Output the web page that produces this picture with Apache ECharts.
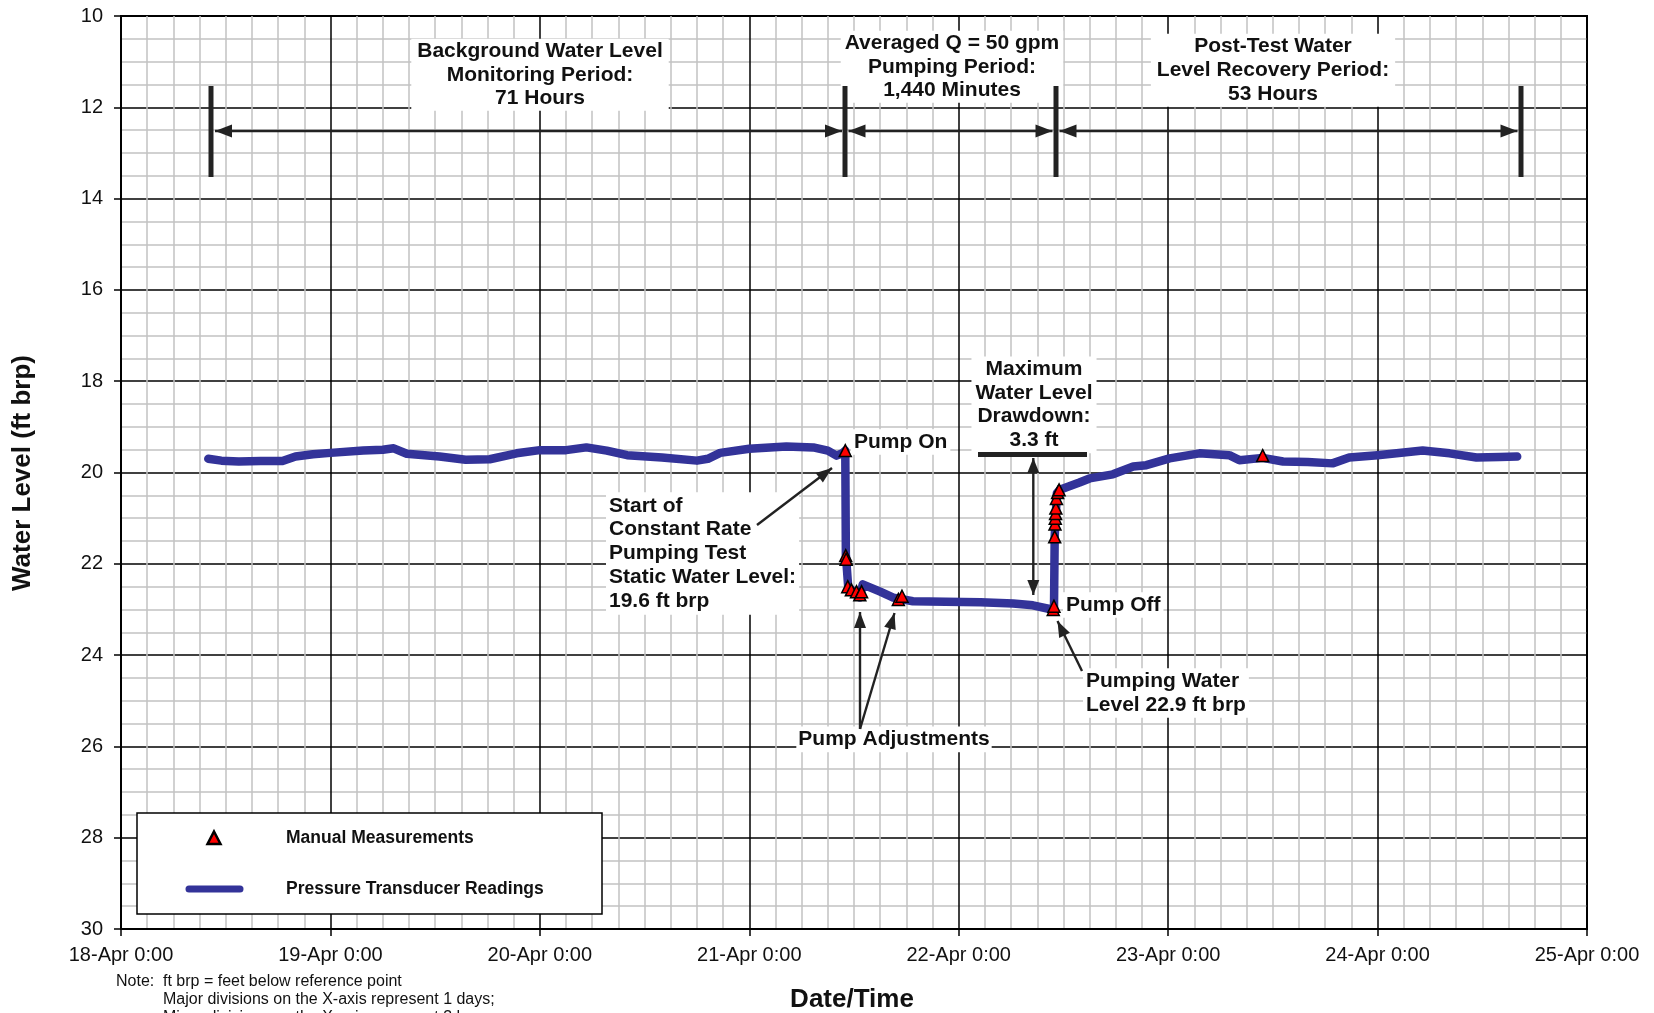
<!DOCTYPE html>
<html>
<head>
<meta charset="utf-8">
<script src="https://cdn.jsdelivr.net/npm/echarts@6/dist/echarts.min.js"></script>
<style>
html,body{margin:0;padding:0;background:#fff;}
#chart{width:1654px;height:1013px;}
</style>
</head>
<body>
<div id="chart"></div>
<script>
// ---------------- DATA ----------------
const dayLabels = ['18-Apr 0:00','19-Apr 0:00','20-Apr 0:00','21-Apr 0:00','22-Apr 0:00','23-Apr 0:00','24-Apr 0:00','25-Apr 0:00'];
const yTicks = [10,12,14,16,18,20,22,24,26,28,30];

// Pressure transducer readings (date-time, water level ft brp)
const transducerTime = [
  '2010-04-18 10:00','2010-04-18 11:30','2010-04-18 13:30','2010-04-18 16:00','2010-04-18 18:30','2010-04-18 20:00','2010-04-18 22:00',
  '2010-04-19 00:00','2010-04-19 03:45','2010-04-19 06:00','2010-04-19 07:15','2010-04-19 08:45','2010-04-19 12:30','2010-04-19 15:30','2010-04-19 18:15','2010-04-19 21:20',
  '2010-04-20 00:00','2010-04-20 03:00','2010-04-20 05:20','2010-04-20 07:40','2010-04-20 10:00','2010-04-20 14:00','2010-04-20 18:00','2010-04-20 19:15','2010-04-20 20:40',
  '2010-04-21 00:00','2010-04-21 04:15','2010-04-21 07:20','2010-04-21 09:00','2010-04-21 10:00','2010-04-21 10:40','2010-04-21 11:00','2010-04-21 11:04','2010-04-21 11:20',
  '2010-04-21 12:00','2010-04-21 12:40','2010-04-21 13:00','2010-04-21 15:00','2010-04-21 16:30','2010-04-21 18:45','2010-04-21 22:30',
  '2010-04-22 02:30','2010-04-22 06:15','2010-04-22 08:30','2010-04-22 10:25','2010-04-22 10:55','2010-04-22 11:00','2010-04-22 11:15','2010-04-22 11:35',
  '2010-04-22 13:50','2010-04-22 15:00','2010-04-22 17:40','2010-04-22 20:00','2010-04-22 21:30',
  '2010-04-23 00:10','2010-04-23 03:35','2010-04-23 07:00','2010-04-23 08:10','2010-04-23 10:50','2010-04-23 13:10','2010-04-23 16:00','2010-04-23 18:50','2010-04-23 20:45',
  '2010-04-24 00:00','2010-04-24 05:10','2010-04-24 08:15','2010-04-24 11:20','2010-04-24 14:00','2010-04-24 16:00'
];
const transducerLevel = [
  19.70,19.74,19.76,19.75,19.75,19.65,19.60,
  19.57,19.52,19.50,19.47,19.59,19.65,19.72,19.71,19.58,
  19.51,19.51,19.45,19.52,19.62,19.67,19.74,19.70,19.57,
  19.48,19.43,19.45,19.52,19.63,19.58,19.52,21.80,22.50,
  22.62,22.74,22.45,22.61,22.74,22.82,22.83,
  22.84,22.87,22.91,22.99,23.02,21.40,20.45,20.38,
  20.22,20.13,20.04,19.87,19.84,
  19.69,19.58,19.62,19.73,19.68,19.76,19.77,19.80,19.67,
  19.62,19.52,19.58,19.67,19.66,19.65
];

// Manual measurements
const manualTime = [
  '2010-04-21 11:00','2010-04-21 11:03','2010-04-21 11:06','2010-04-21 11:17','2010-04-21 11:42','2010-04-21 12:17','2010-04-21 12:40','2010-04-21 12:52',
  '2010-04-21 17:05','2010-04-21 17:30',
  '2010-04-22 10:50','2010-04-22 10:55','2010-04-22 11:00','2010-04-22 11:02','2010-04-22 11:04','2010-04-22 11:06','2010-04-22 11:08','2010-04-22 11:12','2010-04-22 11:20','2010-04-22 11:30',
  '2010-04-23 10:50'
];
const manualLevel = [
  19.52,21.82,21.90,22.50,22.57,22.61,22.68,22.61,
  22.78,22.71,
  23.00,22.93,21.41,21.13,21.00,20.90,20.78,20.57,20.44,20.38,
  19.63
];

// ---------------- BUILD ----------------
const DAY = 86400000;
function parseT(s){
  const m = s.match(/(\d+)-(\d+)-(\d+) (\d+):(\d+)/);
  return Date.UTC(+m[1], +m[2]-1, +m[3], +m[4], +m[5]);
}
const T0 = parseT('2010-04-18 00:00');
const FONT = '"Liberation Sans", Arial, Helvetica, sans-serif';
const BLUE = '#333399';

const lineData = transducerTime.map((t,i)=>[parseT(t), transducerLevel[i]]);
const manualData = manualTime.map((t,i)=>[parseT(t), manualLevel[i]]);

const G = [];
function text(x, y, s, o){
  o = o || {};
  G.push({
    type:'text', x:x, y:y, z:o.z||20, rotation:o.rotation||0,
    style:{
      text:s, fill:'#111', fontFamily:FONT, fontSize:o.size||21, fontWeight:o.weight||'bold',
      align:o.align||'left', verticalAlign:'middle', lineHeight:o.lh||23.7,
      backgroundColor:o.bg||null, padding:o.pad||0
    }
  });
}
function seg(x1,y1,x2,y2,w,color,z){
  G.push({type:'line', z:z||30, shape:{x1:x1,y1:y1,x2:x2,y2:y2}, style:{stroke:color||'#222', lineWidth:w||2}});
}
function head(tx,ty,fx,fy,len,hw){
  const dx=tx-fx, dy=ty-fy, L=Math.sqrt(dx*dx+dy*dy), ux=dx/L, uy=dy/L;
  const bx=tx-ux*len, by=ty-uy*len, px=-uy*hw, py=ux*hw;
  G.push({type:'polygon', z:31, shape:{points:[[tx,ty],[bx+px,by+py],[bx-px,by-py]]}, style:{fill:'#222'}});
}
function arrow(x1,y1,x2,y2,dbl,len,hw){
  len=len||16; hw=hw||6.5;
  seg(x1,y1,x2,y2,2.4);
  head(x2,y2,x1,y1,len,hw);
  if(dbl) head(x1,y1,x2,y2,len,hw);
}

// top period brackets
[211,845,1056,1521].forEach(x=>{
  G.push({type:'rect', z:32, shape:{x:x-2.5,y:86,width:5,height:91}, style:{fill:'#222'}});
});
arrow(215,131,842,131,true,17,6.5);
arrow(848.5,131,1052.5,131,true,17,6.5);
arrow(1059.5,131,1517.5,131,true,17,6.5);

text(540,74.8,'Background Water Level\nMonitoring Period:\n71 Hours',{align:'center',bg:'#fff',pad:[1,6,0,6]});
text(952,66.8,'Averaged Q = 50 gpm\nPumping Period:\n1,440 Minutes',{align:'center',bg:'#fff',pad:[1,4,0,4]});
text(1273,70.3,'Post-Test Water\nLevel Recovery Period:\n53 Hours',{align:'center',bg:'#fff',pad:[2,6,0,6]});

// point annotations
text(851,442,'Pump On',{bg:'#fff',pad:[1,3]});
text(1063,605,'Pump Off',{bg:'#fff',pad:[1,3]});
text(606,553.4,'Start of\nConstant Rate\nPumping Test\nStatic Water Level:\n19.6 ft brp',{bg:'#fff',pad:[2,3]});
arrow(757,525,832,468,false,16,6);
text(1034,404.8,'Maximum\nWater Level\nDrawdown:\n3.3 ft',{align:'center',bg:'#fff',pad:[1,4]});
G.push({type:'rect', z:32, shape:{x:978,y:452,width:109,height:5}, style:{fill:'#222'}});
arrow(1033.3,458,1033.3,595,true,15,6);
text(1083,693,'Pumping Water\nLevel 22.9 ft brp',{bg:'#fff',pad:[1,3]});
arrow(1082,671,1057.5,621,false,16,6);
text(894,739.4,'Pump Adjustments',{align:'center',bg:'#fff',pad:[1,2]});
arrow(860,729,860,612,false,16,6);
arrow(860,729,894.5,613,false,16,6);

// legend box
G.push({type:'rect', z:20, shape:{x:137,y:813,width:465,height:101}, style:{fill:'#fff',stroke:'#000',lineWidth:1.5}});
G.push({type:'polygon', z:21, shape:{points:[[214,831.5],[220.5,844],[207.5,844]]}, style:{fill:'#ff0000',stroke:'#000',lineWidth:2.5}});
G.push({type:'line', z:21, shape:{x1:189,y1:889,x2:240,y2:889}, style:{stroke:BLUE,lineWidth:7,lineCap:'round'}});
text(286,838,'Manual Measurements',{size:17.5,z:21});
text(286,889,'Pressure Transducer Readings',{size:17.5,z:21});

// axis titles
text(23,473,'Water Level (ft brp)',{size:26,align:'center',rotation:Math.PI/2});
text(852,1000,'Date/Time',{size:26,align:'center'});

// note
text(116,982,'Note:',{size:16,weight:'normal'});
text(163,982,'ft brp = feet below reference point',{size:16,weight:'normal'});
text(163,1000,'Major divisions on the X-axis represent 1 days;',{size:16,weight:'normal'});
text(163,1018,'Minor divisions on the X-axis represent 3 hours.',{size:16,weight:'normal'});

const chart = echarts.init(document.getElementById('chart'));
chart.setOption({
  animation:false,
  backgroundColor:'#fff',
  grid:{left:121,right:67,top:16,bottom:84,show:true,borderColor:'#000',borderWidth:2,backgroundColor:'#fff'},
  xAxis:{
    type:'value', min:T0, max:T0+7*DAY, interval:DAY,
    axisLine:{show:true,onZero:false,lineStyle:{color:'#000',width:2}},
    axisTick:{show:true,length:7,lineStyle:{color:'#000',width:1.5}},
    axisLabel:{color:'#111',fontSize:20,fontFamily:FONT,margin:16,showMinLabel:true,showMaxLabel:true,
      formatter:v=>dayLabels[Math.round((v-T0)/DAY)]||''},
    splitLine:{show:true,lineStyle:{color:'#000',width:1.5}},
    minorTick:{show:false,splitNumber:8},
    minorSplitLine:{show:true,lineStyle:{color:'#c2c2c2',width:1.5}}
  },
  yAxis:{
    type:'value', inverse:true, min:yTicks[0], max:yTicks[yTicks.length-1], interval:2,
    axisLine:{show:true,onZero:false,lineStyle:{color:'#000',width:2}},
    axisTick:{show:true,length:7,lineStyle:{color:'#000',width:1.5}},
    axisLabel:{color:'#111',fontSize:20,fontFamily:FONT,margin:18,formatter:v=>String(v)},
    splitLine:{show:true,lineStyle:{color:'#000',width:1.5}},
    minorTick:{show:false,splitNumber:4},
    minorSplitLine:{show:true,lineStyle:{color:'#c2c2c2',width:1.5}}
  },
  series:[
    {type:'line', name:'Pressure Transducer Readings', data:lineData, showSymbol:false, symbol:'none', z:3,
      lineStyle:{color:BLUE,width:8.5,cap:'round',join:'round'}},
    {type:'scatter', name:'Manual Measurements', data:manualData, symbol:'triangle', symbolSize:12, z:4,
      itemStyle:{color:'#ff0000',borderColor:'#000',borderWidth:1.5,opacity:1}}
  ],
  graphic:G
});
</script>
</body>
</html>
